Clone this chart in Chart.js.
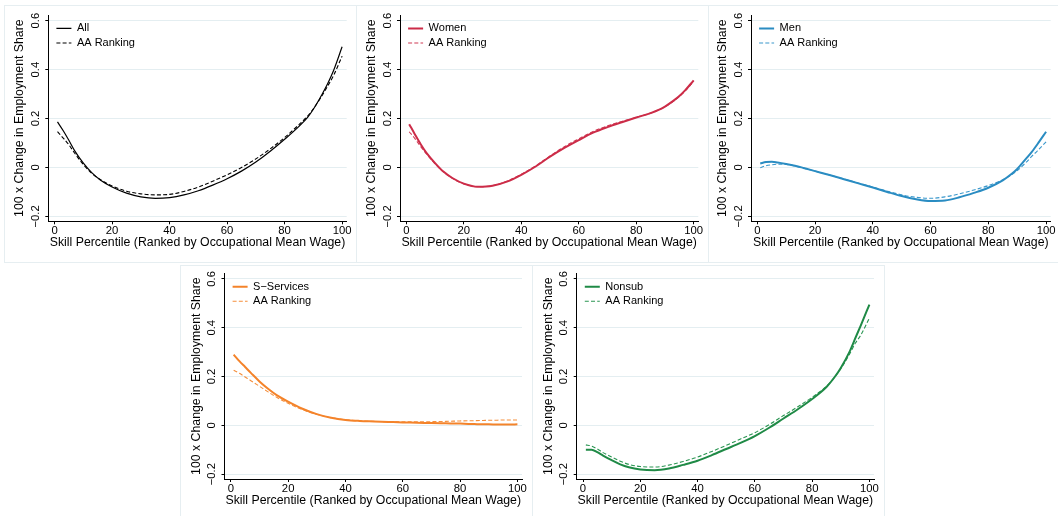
<!DOCTYPE html>
<html>
<head>
<meta charset="utf-8">
<script src="https://cdn.jsdelivr.net/npm/chart.js@4.4.1/dist/chart.umd.min.js"></script>
<style>
  html, body { margin: 0; padding: 0; background: #fff; }
  body { width: 1058px; height: 516px; position: relative; overflow: hidden; }
  .frame { position: absolute; border: 1px solid #e6eef1; box-sizing: border-box; }
  canvas { position: absolute; }
</style>
</head>
<body>
<div class="frame" style="left:4px;top:5px;width:353px;height:258px"></div>
<div class="frame" style="left:356px;top:5px;width:353px;height:258px"></div>
<div class="frame" style="left:708px;top:5px;width:352px;height:258px"></div>
<div class="frame" style="left:180px;top:265px;width:353px;height:260px"></div>
<div class="frame" style="left:532px;top:265px;width:353px;height:260px"></div>
<canvas id="c1"></canvas>
<canvas id="c2"></canvas>
<canvas id="c3"></canvas>
<canvas id="c4"></canvas>
<canvas id="c5"></canvas>
<script>
const pct = [1, 3, 5, 7, 10, 13, 16, 20, 25, 30, 35, 40, 45, 50, 55, 60, 65, 70, 75, 80, 85, 88, 90, 93, 95, 97, 100];

const allMain = [0.186, 0.150, 0.110, 0.068, 0.018, -0.022, -0.052, -0.080, -0.105, -0.120, -0.126, -0.123, -0.112, -0.095, -0.072, -0.046, -0.015, 0.022, 0.066, 0.115, 0.168, 0.205, 0.238, 0.298, 0.343, 0.395, 0.493];
const allAA = [0.146, 0.120, 0.092, 0.058, 0.012, -0.025, -0.050, -0.076, -0.097, -0.108, -0.112, -0.110, -0.098, -0.080, -0.056, -0.030, 0.000, 0.035, 0.076, 0.122, 0.175, 0.210, 0.240, 0.293, 0.333, 0.375, 0.455];

const womenMain = [0.177, 0.135, 0.095, 0.060, 0.018, -0.018, -0.043, -0.066, -0.079, -0.075, -0.058, -0.030, 0.004, 0.044, 0.080, 0.112, 0.142, 0.165, 0.185, 0.204, 0.222, 0.236, 0.249, 0.273, 0.292, 0.315, 0.356];
const womenAA = [0.146, 0.118, 0.085, 0.055, 0.015, -0.019, -0.044, -0.067, -0.079, -0.074, -0.056, -0.028, 0.007, 0.047, 0.085, 0.117, 0.147, 0.170, 0.188, 0.205, 0.222, 0.236, 0.248, 0.271, 0.290, 0.312, 0.352];

const menMain = [0.016, 0.022, 0.023, 0.020, 0.014, 0.007, -0.002, -0.015, -0.031, -0.048, -0.065, -0.082, -0.100, -0.117, -0.130, -0.137, -0.135, -0.122, -0.104, -0.083, -0.053, -0.027, -0.006, 0.035, 0.063, 0.095, 0.146];
const menAA = [-0.001, 0.007, 0.011, 0.013, 0.012, 0.006, -0.003, -0.015, -0.031, -0.047, -0.064, -0.080, -0.097, -0.112, -0.122, -0.126, -0.120, -0.108, -0.092, -0.074, -0.050, -0.030, -0.013, 0.020, 0.045, 0.068, 0.105];

const servMain = [0.290, 0.263, 0.239, 0.215, 0.180, 0.150, 0.124, 0.097, 0.068, 0.046, 0.031, 0.022, 0.018, 0.016, 0.014, 0.012, 0.011, 0.009, 0.008, 0.007, 0.005, 0.004, 0.004, 0.003, 0.003, 0.003, 0.004];
const servAA = [0.226, 0.213, 0.198, 0.183, 0.160, 0.137, 0.115, 0.090, 0.064, 0.045, 0.031, 0.023, 0.018, 0.016, 0.015, 0.014, 0.014, 0.015, 0.016, 0.018, 0.019, 0.020, 0.021, 0.021, 0.022, 0.022, 0.022];

const nonsubMain = [-0.100, -0.100, -0.110, -0.124, -0.143, -0.160, -0.172, -0.181, -0.184, -0.177, -0.162, -0.145, -0.122, -0.097, -0.072, -0.044, -0.010, 0.028, 0.066, 0.108, 0.157, 0.200, 0.235, 0.300, 0.355, 0.410, 0.495];
const nonsubAA = [-0.080, -0.085, -0.097, -0.112, -0.130, -0.147, -0.160, -0.169, -0.171, -0.163, -0.148, -0.130, -0.107, -0.082, -0.056, -0.030, 0.003, 0.040, 0.076, 0.115, 0.160, 0.200, 0.232, 0.290, 0.335, 0.370, 0.440];

const xTicks = [0, 20, 40, 60, 80, 100];
const yTicks = [-0.2, 0, 0.2, 0.4, 0.6];
const yTickLabels = ['\u22120.2', '0', '0.2', '0.4', '0.6'];
const xTitle = 'Skill Percentile (Ranked by Occupational Mean Wage)';
const yTitle = '100 x Change in Employment Share';

Chart.defaults.font.family = '"Liberation Sans", Arial, Helvetica, sans-serif';
Chart.defaults.color = '#000';

const gridColor = '#e4eef1';

// move the legend a bit into the plot, like the stata one
const legendShift = {
	id: 'legendShift',
	afterLayout(chart) {
		const lg = chart.legend;
		lg.left = chart.chartArea.left + 4.5;
		lg.top = chart.chartArea.top + 4.3;
	}
};

// legend samples: take dash and width from the line, not from the point
const legendLabels = (chart) => {
	const items = Chart.defaults.plugins.legend.labels.generateLabels(chart);
	items.forEach((it, i) => {
		const ds = chart.data.datasets[i];
		it.lineDash = ds.borderDash || [];
		it.lineWidth = ds.borderWidth;
		it.strokeStyle = ds.borderColor;
		it.pointStyle = 'line';
	});
	return items;
};

const panels = [
	{ id: 'c1', left: 4, top: 5, w: 352, h: 257, yW: 44.3, padTop: 10, padRight: 9.3, xH: 40.7, xTitlePad: 11.6,
	  name: 'All', main: allMain, aa: allAA, color: '#000000', aaColor: '#000000', mainW: 1.2 },
	{ id: 'c2', left: 356, top: 5, w: 352, h: 257, yW: 44, padTop: 10, padRight: 9.7, xH: 40.7, xTitlePad: 11.6,
	  name: 'Women', main: womenMain, aa: womenAA, color: '#cc2c48', aaColor: '#d03a55', mainW: 2 },
	{ id: 'c3', left: 708, top: 5, w: 350, h: 257, yW: 43, padTop: 10, padRight: 7.3, xH: 40.7, xTitlePad: 11.6,
	  name: 'Men', main: menMain, aa: menAA, color: '#2a8cc2', aaColor: '#3a98cc', mainW: 2 },
	{ id: 'c4', left: 180, top: 265, w: 352, h: 251, yW: 44.5, padTop: 8.3, padRight: 10, xH: 37, xTitlePad: 7.9,
	  name: 'S\u2212Services', main: servMain, aa: servAA, color: '#f4832a', aaColor: '#f58f3c', mainW: 2 },
	{ id: 'c5', left: 532, top: 265, w: 352, h: 251, yW: 44.7, padTop: 8.3, padRight: 10, xH: 37, xTitlePad: 7.9,
	  name: 'Nonsub', main: nonsubMain, aa: nonsubAA, color: '#1f8a46', aaColor: '#2a9552', mainW: 2 }
];

panels.forEach((p) => {
	const cv = document.getElementById(p.id);
	cv.width = p.w;
	cv.height = p.h;
	cv.style.left = p.left + 'px';
	cv.style.top = p.top + 'px';

	new Chart(cv, {
		type: 'line',
		data: {
			datasets: [{
				label: p.name,
				data: pct.map((x, i) => ({ x: x, y: p.main[i] })),
				borderColor: p.color,
				borderWidth: p.mainW,
				pointRadius: 0,
				cubicInterpolationMode: 'monotone'
			}, {
				label: 'AA Ranking',
				data: pct.map((x, i) => ({ x: x, y: p.aa[i] })),
				borderColor: p.aaColor,
				borderWidth: 1.1,
				borderDash: [4, 2.2],
				pointRadius: 0,
				cubicInterpolationMode: 'monotone'
			}]
		},
		options: {
			responsive: false,
			animation: false,
			events: [],
			layout: { padding: { top: p.padTop, right: p.padRight, left: 0, bottom: 0 } },
			plugins: {
				legend: {
					position: 'chartArea',
					align: 'start',
					labels: {
						usePointStyle: true,
						pointStyle: 'line',
						pointStyleWidth: 15,
						padding: 3.6,
						color: '#000',
						font: { size: 11 },
						generateLabels: legendLabels
					}
				},
				tooltip: { enabled: false }
			},
			scales: {
				x: {
					type: 'linear',
					min: -2.2,
					max: 101.6,
					afterBuildTicks: (s) => { s.ticks = xTicks.map(v => ({ value: v })); },
					afterFit: (s) => { s.height = p.xH; },
					grid: { drawOnChartArea: false, tickLength: 3, tickColor: '#000' },
					border: { color: '#000', width: 1 },
					ticks: { color: '#000', font: { size: 11.3 }, padding: 0, maxRotation: 0, autoSkip: false },
					title: { display: true, text: xTitle, color: '#000', font: { size: 12.3 }, padding: { top: 0, bottom: p.xTitlePad } }
				},
				y: {
					min: -0.22,
					max: 0.623,
					afterBuildTicks: (s) => { s.ticks = yTicks.map(v => ({ value: v })); },
					afterFit: (s) => { s.width = p.yW; },
					grid: { color: gridColor, tickLength: 3, tickColor: '#000' },
					border: { color: '#000', width: 1 },
					ticks: {
						color: '#000', font: { size: 11.3 }, minRotation: 90, maxRotation: 90,
						crossAlign: 'center', padding: -1.8, autoSkip: false,
						callback: (v, i) => yTickLabels[i]
					},
					title: { display: true, text: yTitle, color: '#000', font: { size: 12.3 }, padding: { top: p.yW - 28.2 - 7.38, bottom: 0 } }
				}
			}
		},
		plugins: [legendShift]
	});
});
</script>
</body>
</html>
